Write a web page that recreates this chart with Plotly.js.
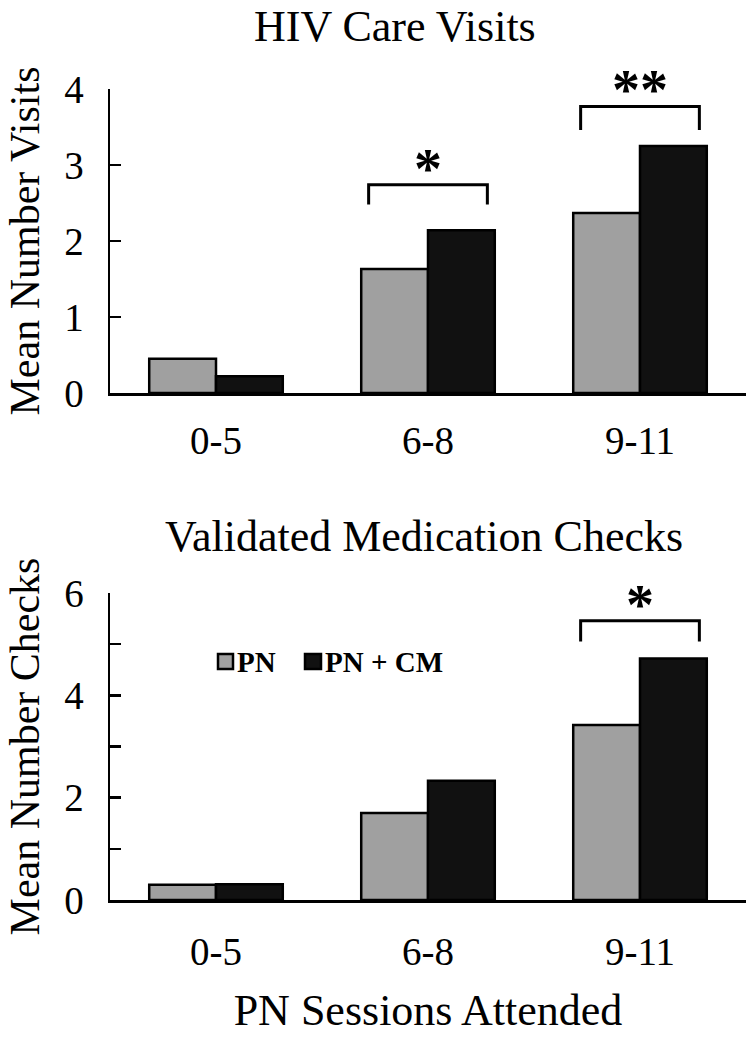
<!DOCTYPE html>
<html>
<head>
<meta charset="utf-8">
<script src="https://cdn.plot.ly/plotly-3.0.1.min.js"></script>
<style>html,body{margin:0;padding:0;background:#fff}#chart{width:750px;height:1037px}</style>
</head>
<body>
<div id="chart"></div>
<script>
// ---- data ----
const categories = ['0-5', '6-8', '9-11'];
const seriesNames = ['PN', 'PN + CM'];
const visitsPN = [0.45, 1.63, 2.37];
const visitsPNCM = [0.22, 2.14, 3.25];
const checksPN = [0.30, 1.70, 3.42];
const checksPNCM = [0.31, 2.33, 4.72];
const visitsTicks = [0, 1, 2, 3, 4];
const visitsTickText = ['0', '1', '2', '3', '4'];
const checksTicks = [0, 1, 2, 3, 4, 5, 6];
const checksTickText = ['0', '', '2', '', '4', '', '6'];
// significance brackets: category index, bracket level, leg bottom, label
const sigVisitsCat = [1, 2];
const sigVisitsTop = [2.74, 3.77];
const sigVisitsLeg = [2.48, 3.46];
const sigVisitsLabel = ['*', '**'];
const sigChecksCat = [2];
const sigChecksTop = [5.46];
const sigChecksLeg = [5.05];
const sigChecksLabel = ['*'];

const colors = ['#a0a0a0', '#111111'];
const FONT = '"Liberation Serif", "Times New Roman", Times, serif';

// layout helpers (pixel -> paper)
const ML = 110, MR = 4, MT = 89, MB = 137, W = 750, H = 1037;
const PW = W - ML - MR, PH = H - MT - MB;
const xp = px => (px - ML) / PW;
const yp = py => (H - MB - py) / PH;

function barTrace(y, i, xa, ya) {
  return {
    type: 'bar', x: categories, y: y, name: seriesNames[i],
    xaxis: xa, yaxis: ya, showlegend: false,
    marker: {color: colors[i], line: {color: '#000', width: 2.5}},
    hoverinfo: 'skip'
  };
}

const data = [
  barTrace(visitsPN, 0, 'x', 'y'),
  barTrace(visitsPNCM, 1, 'x', 'y'),
  barTrace(checksPN, 0, 'x2', 'y2'),
  barTrace(checksPNCM, 1, 'x2', 'y2')
];

const shapes = [];
const annotations = [];
const HALF = 0.28;
function addSig(cats, tops, legs, labels, xa, ya) {
  cats.forEach((c, k) => {
    shapes.push({type: 'path', xref: xa, yref: ya,
      path: `M ${c - HALF} ${legs[k]} L ${c - HALF} ${tops[k]} L ${c + HALF} ${tops[k]} L ${c + HALF} ${legs[k]}`,
      line: {color: '#000', width: 3}});
    annotations.push({xref: xa, yref: ya, x: c, y: tops[k], text: labels[k],
      showarrow: false, yanchor: 'bottom', yshift: -17,
      font: {family: FONT, size: 56, color: '#000', weight: 'bold'}});
  });
}
addSig(sigVisitsCat, sigVisitsTop, sigVisitsLeg, sigVisitsLabel, 'x', 'y');
addSig(sigChecksCat, sigChecksTop, sigChecksLeg, sigChecksLabel, 'x2', 'y2');

// subplot titles
annotations.push({xref: 'paper', yref: 'paper', x: xp(395), y: yp(0), text: 'HIV Care Visits',
  showarrow: false, xanchor: 'center', yanchor: 'top', font: {family: FONT, size: 44, color: '#000'}});
annotations.push({xref: 'paper', yref: 'paper', x: xp(424), y: yp(536), text: 'Validated Medication Checks',
  showarrow: false, xanchor: 'center', yanchor: 'middle', font: {family: FONT, size: 44, color: '#000'}});

// custom legend
const legSq = [[218, 233], [305, 321]];
const legText = [235, 323];
seriesNames.forEach((nm, i) => {
  shapes.push({type: 'rect', xref: 'paper', yref: 'paper',
    x0: xp(legSq[i][0]), x1: xp(legSq[i][1]), y0: yp(669), y1: yp(654),
    fillcolor: colors[i], line: {color: '#000', width: 2.5}});
  annotations.push({xref: 'paper', yref: 'paper', x: xp(legText[i]), y: yp(662), text: nm,
    showarrow: false, xanchor: 'left', yanchor: 'middle',
    font: {family: FONT, size: 29, color: '#000', weight: 'bold'}});
});

const xCommon = {
  type: 'category', range: [-0.5, 2.5], showline: true, linecolor: '#000', linewidth: 2.5,
  ticks: '', showgrid: false, zeroline: false,
  tickfont: {family: FONT, size: 39, color: '#000'}, fixedrange: true
};
const yCommon = {
  showline: true, linecolor: '#000', linewidth: 2.5, ticks: 'inside', ticklen: 11, tickwidth: 2.5,
  tickcolor: '#000', showgrid: false, zeroline: false, ticklabelstandoff: 16,
  tickfont: {family: FONT, size: 39, color: '#000'}, fixedrange: true
};

const layout = {
  width: W, height: H,
  margin: {l: ML, r: MR, t: MT, b: MB},
  paper_bgcolor: '#fff', plot_bgcolor: '#fff',
  barmode: 'group', bargap: 0.37, bargroupgap: 0,
  showlegend: false,
  font: {family: FONT, color: '#000'},
  xaxis: Object.assign({}, xCommon, {domain: [0, 1], anchor: 'y', ticklabelstandoff: 12}),
  yaxis: Object.assign({}, yCommon, {domain: [yp(393), 1], anchor: 'x', range: [0, 4],
    tickvals: visitsTicks, ticktext: visitsTickText,
    title: {text: 'Mean Number Visits', font: {family: FONT, size: 42, color: '#000'}, standoff: 12}}),
  xaxis2: Object.assign({}, xCommon, {domain: [0, 1], anchor: 'y2', ticklabelstandoff: 16,
    title: {text: 'PN Sessions Attended', font: {family: FONT, size: 44, color: '#000'}, standoff: 22}}),
  yaxis2: Object.assign({}, yCommon, {domain: [0, yp(593)], anchor: 'x2', range: [0, 6],
    tickvals: checksTicks, ticktext: checksTickText,
    title: {text: 'Mean Number Checks', font: {family: FONT, size: 42, color: '#000'}, standoff: 12}}),
  shapes: shapes,
  annotations: annotations
};

Plotly.newPlot('chart', data, layout, {displayModeBar: false, staticPlot: true});
</script>
</body>
</html>
